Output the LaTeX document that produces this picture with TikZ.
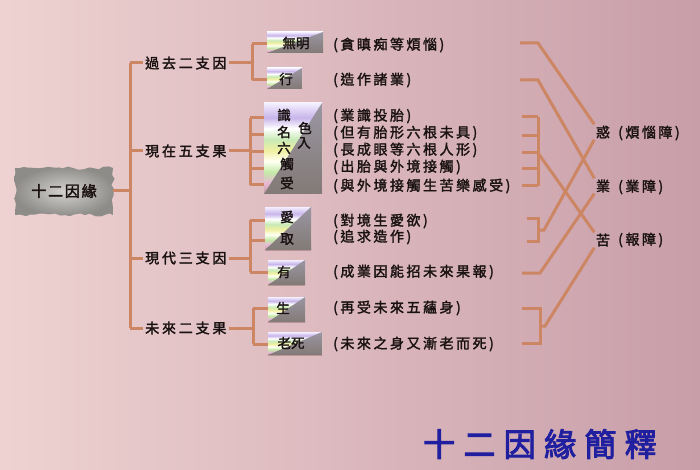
\documentclass[tikz,border=0pt]{standalone}
\usepackage{fontspec}
\newfontfamily\cjkbox{Noto Sans CJK TC}[FakeBold=2]
\newfontfamily\cjkls{Noto Sans CJK TC}[LetterSpace=18,FakeBold=2]
\newfontfamily\cjkcat{Noto Sans CJK TC}[LetterSpace=20,FakeBold=2.2]
\newfontfamily\cjkstone{Noto Sans CJK TC}[LetterSpace=12,FakeBold=2.5]
\newfontfamily\cjktitle{Noto Sans CJK TC}[LetterSpace=26,FakeBold=3]
\usetikzlibrary{decorations.pathmorphing}
\definecolor{bgL}{HTML}{EED2D1}
\definecolor{bgR}{HTML}{C89EA9}
\definecolor{pipeD}{HTML}{CC8664}
\definecolor{ink}{HTML}{1A1212}
\definecolor{titleblue}{HTML}{1F1FA0}
\definecolor{stoneI}{HTML}{D4D2CE}
\definecolor{stoneO}{HTML}{8E8C88}
\definecolor{sA}{HTML}{C0989A}
\definecolor{sB}{HTML}{E8B8D8}
\definecolor{sC}{HTML}{C4EAA6}
\definecolor{sD}{HTML}{FFFFF4}
\definecolor{sE}{HTML}{F0F0A0}
\definecolor{sF}{HTML}{C8EAB6}
\definecolor{sG}{HTML}{FFFFFF}
\definecolor{sH}{HTML}{C8B4EA}
\definecolor{sI}{HTML}{F4F0FF}
\definecolor{triT}{HTML}{9A96A2}
\definecolor{triM}{HTML}{7A7E5C}
\definecolor{triB}{HTML}{827A76}
\pgfdeclareverticalshading{stripes}{100bp}{color(0bp)=(sA); color(25bp)=(sA); color(31bp)=(sB); color(37bp)=(sC); color(43bp)=(sD); color(49bp)=(sE); color(55bp)=(sF); color(61bp)=(sG); color(67bp)=(sH); color(75bp)=(sI); color(100bp)=(sI)}
\tikzset{
  pipe/.style={draw=pipeD,line width=3pt},
  gbox/.style={inner sep=0pt,outer sep=0pt,
    path picture={
      \shade[shading=stripes] (path picture bounding box.south west) rectangle (path picture bounding box.north east);
      \shade[top color=triT,middle color=triM,bottom color=triB]
        (path picture bounding box.north east) -- (path picture bounding box.south east)
        -- (path picture bounding box.south west) -- cycle;
    }},
  boxtxt/.style={inner sep=0pt,font=\cjkbox\fontsize{13.5}{14}\selectfont,text=ink},
  cat/.style={anchor=west,inner sep=2pt,font=\cjkcat\fontsize{14}{16}\selectfont,text=ink},
  desc/.style={anchor=west,inner sep=1pt,font=\cjkls\fontsize{14}{16}\selectfont,text=ink},
  kchar/.style={inner sep=0pt,minimum width=17pt,minimum height=15pt,font=\cjkbox\fontsize{14}{16}\selectfont,text=ink},
  rootnode/.style={minimum width=98pt,minimum height=47pt,inner sep=0pt,font=\cjkstone\fontsize{15}{17}\selectfont,text=ink},
  titlestyle/.style={inner sep=0pt,font=\cjktitle\fontsize{32}{36}\selectfont,text=titleblue}
}
\begin{document}
\begin{tikzpicture}[x=1pt,y=-1pt]
\useasboundingbox (0,0) rectangle (700,470);
\shade[left color=bgL,right color=bgR] (0,0) rectangle (700,470);

% stone
\pgfmathsetseed{7}
\shade[decorate,decoration={random steps,segment length=5pt,amplitude=1.6pt},inner color=stoneI,outer color=stoneO] (15,168) rectangle (113,215);
\node[rootnode] (root) at (64,191) {十二因緣};

% categories
\node[cat] (c1) at (143,63) {過去二支因};
\node[cat] (c2) at (143,151) {現在五支果};
\node[cat] (c3) at (143,258) {現代三支因};
\node[cat] (c4) at (143,328) {未來二支果};

% boxes
\node[gbox,minimum width=56pt,minimum height=21pt] (b1) at (295,42.5) {};
\node[gbox,minimum width=35pt,minimum height=21pt] (b2) at (284.5,78.5) {};
\node[gbox,minimum width=58pt,minimum height=91pt] (b3) at (293,148.5) {};
\node[gbox,minimum width=46pt,minimum height=43pt] (b4) at (288,228.5) {};
\node[gbox,minimum width=37pt,minimum height=25pt] (b5) at (286.5,272.5) {};
\node[gbox,minimum width=37pt,minimum height=25pt] (b6) at (286.5,309.5) {};
\node[gbox,minimum width=54pt,minimum height=23pt] (b7) at (295,343.5) {};

% box texts
\node[boxtxt] (t1) at (296,43) {無明};
\node[boxtxt] (t2) at (286,79) {行};
\node[boxtxt] (t3) at (284,115) {識};
\node[boxtxt] (t4) at (284,132) {名};
\node[boxtxt] (t5) at (305,128) {色};
\node[boxtxt] (t6) at (284,148) {六};
\node[boxtxt] (t7) at (304,143) {入};
\node[boxtxt] (t8) at (287,164) {觸};
\node[boxtxt] (t9) at (287,183) {受};
\node[boxtxt] (t10) at (287,217) {愛};
\node[boxtxt] (t11) at (287,239) {取};
\node[boxtxt] (t12) at (284,272) {有};
\node[boxtxt] (t13) at (283,308) {生};
\node[boxtxt] (t14) at (291,343) {老死};

% descriptions
\node[desc] (d1) at (332,45) {(貪瞋痴等煩惱)};
\node[desc] (d2) at (332,80) {(造作諸業)};
\node[desc] (d3) at (332,116) {(業識投胎)};
\node[desc] (d4) at (332,133) {(但有胎形六根未具)};
\node[desc] (d5) at (332,150) {(長成眼等六根人形)};
\node[desc] (d6) at (332,167) {(出胎與外境接觸)};
\node[desc] (d7) at (332,186) {(與外境接觸生苦樂感受)};
\node[desc] (d8) at (332,221) {(對境生愛欲)};
\node[desc] (d9) at (332,237) {(追求造作)};
\node[desc] (d10) at (332,272) {(成業因能招未來果報)};
\node[desc] (d11) at (332,308) {(再受未來五蘊身)};
\node[desc] (d12) at (332,344) {(未來之身又漸老而死)};

% right side
\node[kchar] (huo) at (603,132) {惑};
\node[kchar] (ye) at (603,186) {業};
\node[kchar] (ku) at (603,240) {苦};
\node[desc] (h1) at (617,133) {(煩惱障)};
\node[desc] (h2) at (617,187) {(業障)};
\node[desc] (h3) at (617,240) {(報障)};

% title
\node[titlestyle] (ttl) at (540,444) {十二因緣簡釋};

% ---- left tree connectors
\coordinate (k1) at (130,63);
\coordinate (k2) at (130,151);
\coordinate (k3) at (130,258);
\coordinate (k4) at (130,328);
\coordinate (kr) at (130,191);
\draw[pipe] (root.east) -- (kr);
\draw[pipe] (k1) -- (k4);
\foreach \i in {1,2,3,4} \draw[pipe] (k\i) -- (c\i.west);

% 過去
\coordinate (va) at (252,44);
\coordinate (vb) at (252,80);
\coordinate (vm) at (252,63);
\draw[pipe] (c1.east) -- (vm);
\draw[pipe] (va) -- (vb);
\draw[pipe] (va) -- (va -| b1.west);
\draw[pipe] (vb) -- (vb -| b2.west);

% 現在
\coordinate (wa) at (250,118);
\coordinate (wb) at (250,135);
\coordinate (wc) at (250,152);
\coordinate (wd) at (250,169);
\coordinate (we) at (250,185);
\draw[pipe] (c2.east) -- (c2.east -| wa);
\draw[pipe] (wa) -- (we);
\foreach \p in {wa,wb,wc,wd,we} \draw[pipe] (\p) -- (\p -| b3.west);

% 現代
\coordinate (xa) at (250,220);
\coordinate (xb) at (250,240);
\coordinate (xc) at (250,272);
\draw[pipe] (c3.east) -- (c3.east -| xa);
\draw[pipe] (xa) -- (xc);
\draw[pipe] (xa) -- (xa -| b4.west);
\draw[pipe] (xb) -- (xb -| b4.west);
\draw[pipe] (xc) -- (xc -| b5.west);

% 未來
\coordinate (ya) at (253,308);
\coordinate (yb) at (253,344);
\draw[pipe] (c4.east) -- (c4.east -| ya);
\draw[pipe] (ya) -- (yb);
\draw[pipe] (ya) -- (ya -| b6.west);
\draw[pipe] (yb) -- (yb -| b7.west);

% ---- right connectors
\coordinate (r1a) at (520,43);
\coordinate (r1b) at (538,43);
\draw[pipe] (r1a) -- (r1b) -- (huo.north west);
\coordinate (r2a) at (520,80);
\coordinate (r2b) at (538,80);
\draw[pipe] (r2a) -- (r2b) -- (ye.north west);

\coordinate (q1) at (538,117);
\coordinate (q5) at (538,186);
\coordinate (qm) at (538,153);
\draw[pipe] (q1) -- (q5);
\foreach \yy in {117,136,153,169,186} {\coordinate (qq) at (522,\yy); \draw[pipe] (qq) -- (qq -| q1);}
\draw[pipe] (qm) -- (ku.north west);

\coordinate (a1) at (538,218);
\coordinate (a2) at (538,241);
\coordinate (am) at (538,230);
\coordinate (an) at (544,230);
\coordinate (a1s) at (527,218);
\coordinate (a2s) at (527,241);
\draw[pipe] (a1s) -- (a1) -- (a2) -- (a2s);
\draw[pipe] (am) -- (an) -- (huo.south west);

\coordinate (u1) at (522,273);
\coordinate (u2) at (540,273);
\draw[pipe] (u1) -- (u2) -- (ye.south west);

\coordinate (g1) at (540,308);
\coordinate (g2) at (540,343);
\coordinate (g1s) at (522,308);
\coordinate (g2s) at (522,343);
\coordinate (gm) at (540,326);
\coordinate (gn) at (545,326);
\draw[pipe] (g1s) -- (g1) -- (g2) -- (g2s);
\draw[pipe] (gm) -- (gn) -- (ku.south west);
\end{tikzpicture}
\end{document}
